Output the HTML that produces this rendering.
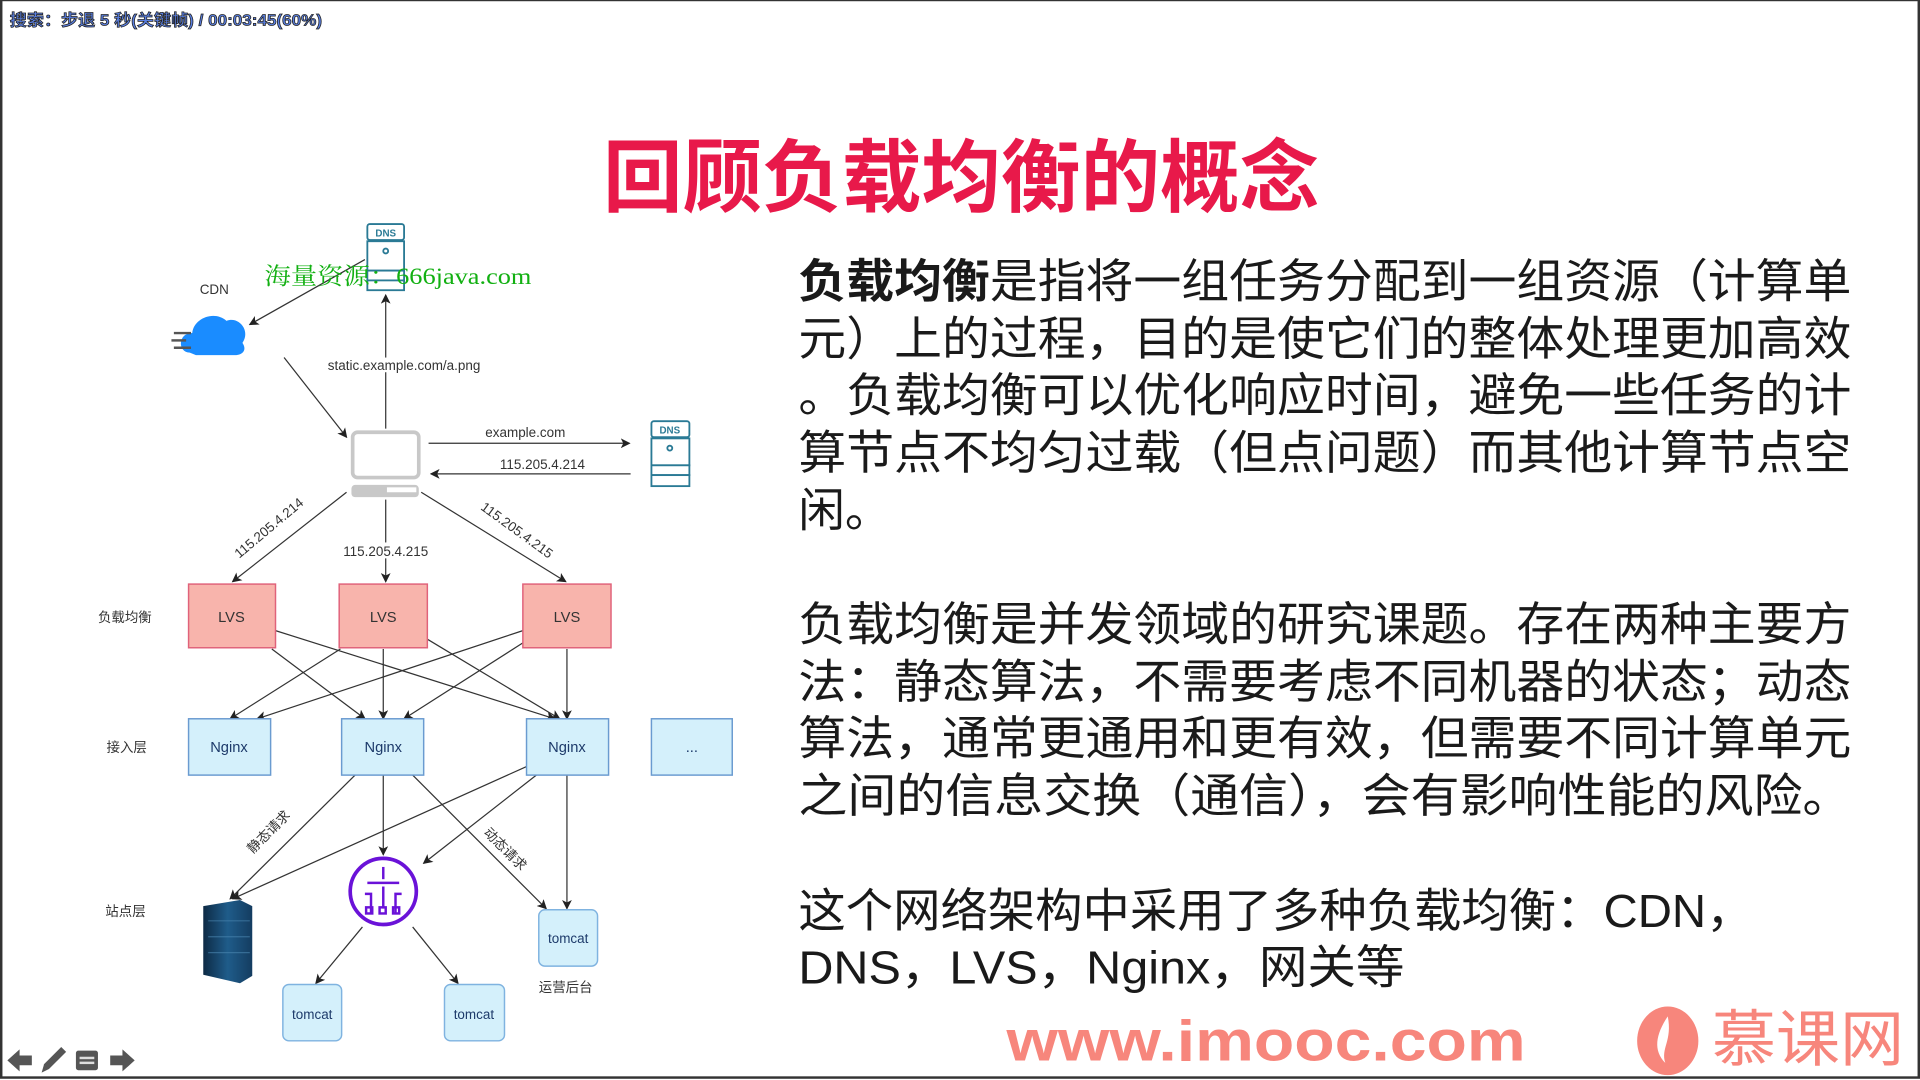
<!DOCTYPE html>
<html><head><meta charset="utf-8"><style>
html,body{margin:0;padding:0;background:#fff;width:1920px;height:1080px;overflow:hidden}
svg{display:block}
text{font-family:"Liberation Sans","Noto Sans CJK SC",sans-serif}
</style></head><body>
<svg width="1920" height="1080" viewBox="0 0 1568 882" xmlns="http://www.w3.org/2000/svg">
<defs>
<marker id="a" markerWidth="8" markerHeight="8" refX="7" refY="4" orient="auto" markerUnits="userSpaceOnUse"><path d="M0,0 L8,4 L0,8 L2,4 z" fill="#222"/></marker>
<linearGradient id="rk" x1="0" x2="1"><stop offset="0" stop-color="#0d2a45"/><stop offset="0.5" stop-color="#1f5c8a"/><stop offset="1" stop-color="#143c60"/></linearGradient>
</defs>
<rect x="0" y="0" width="1568" height="882" fill="#fff"/>
<rect x="1" y="0" width="1566" height="880" fill="none" stroke="#333" stroke-width="2"/>
<text x="8" y="21" font-size="13" font-weight="bold" fill="#5a7fe0" stroke="#222" stroke-width="0.6" textLength="255" lengthAdjust="spacingAndGlyphs">搜索：步退 5 秒(关键帧) / 00:03:45(60%)</text>

<text x="785" y="168" font-size="65" font-weight="bold" fill="#e8194a" text-anchor="middle" textLength="585" lengthAdjust="spacingAndGlyphs">回顾负载均衡的概念</text>

<g font-size="38" fill="#1a1a1a">
<text x="652" y="243" textLength="860" lengthAdjust="spacingAndGlyphs"><tspan font-weight="bold">负载均衡</tspan>是指将一组任务分配到一组资源（计算单</text>
<text x="652" y="290" textLength="860" lengthAdjust="spacingAndGlyphs">元）上的过程，目的是使它们的整体处理更加高效</text>
<text x="652" y="336" textLength="860" lengthAdjust="spacingAndGlyphs">。负载均衡可以优化响应时间，避免一些任务的计</text>
<text x="652" y="383" textLength="860" lengthAdjust="spacingAndGlyphs">算节点不均匀过载（但点问题）而其他计算节点空</text>
<text x="652" y="430">闲。</text>
<text x="652" y="523" textLength="860" lengthAdjust="spacingAndGlyphs">负载均衡是并发领域的研究课题。存在两种主要方</text>
<text x="652" y="570" textLength="860" lengthAdjust="spacingAndGlyphs">法：静态算法，不需要考虑不同机器的状态；动态</text>
<text x="652" y="616" textLength="860" lengthAdjust="spacingAndGlyphs">算法，通常更通用和更有效，但需要不同计算单元</text>
<text x="652" y="663" textLength="860" lengthAdjust="spacingAndGlyphs">之间的信息交换（通信），会有影响性能的风险。</text>
<text x="652" y="757" textLength="780" lengthAdjust="spacingAndGlyphs">这个网络架构中采用了多种负载均衡：CDN，</text>
<text x="652" y="803" textLength="495" lengthAdjust="spacingAndGlyphs">DNS，LVS，Nginx，网关等</text>
</g>

<text x="822" y="866" font-size="47" font-weight="bold" fill="#f7867c" textLength="424" lengthAdjust="spacingAndGlyphs">www.imooc.com</text>
<ellipse cx="1362" cy="850" rx="25" ry="28" fill="#f7867c"/>
<path d="M1362,830 C1352,845 1350,858 1360,868 C1356,856 1366,850 1362,830 z" fill="#fff"/>
<text x="1398" y="866" font-size="50" fill="#f7867c" textLength="157" lengthAdjust="spacingAndGlyphs">慕课网</text>

<g fill="#555">
<path d="M6,866 L16,857 L16,862 L26,862 L26,870 L16,870 L16,875 z"/>
<path d="M34,876 L36,869 L50,855 L54,859 L40,873 z"/>
<rect x="62" y="858" width="18" height="16" rx="2"/>
<rect x="65" y="863" width="12" height="2" fill="#ddd"/><rect x="65" y="867" width="12" height="2" fill="#ddd"/>
<path d="M110,866 L100,857 L100,862 L90,862 L90,870 L100,870 L100,875 z"/>
</g>

<g stroke="#333" stroke-width="1" fill="none" marker-end="url(#a)">
<line x1="298" y1="212" x2="204" y2="265"/>
<line x1="232" y1="292" x2="283" y2="357"/>
<line x1="315" y1="350" x2="315" y2="241"/>
<line x1="350" y1="362" x2="514" y2="362"/>
<line x1="515" y1="387" x2="352" y2="387"/>
<line x1="283" y1="402" x2="190" y2="475"/>
<line x1="315" y1="408" x2="315" y2="475"/>
<line x1="344" y1="402" x2="462" y2="475"/>
<line x1="222" y1="530" x2="298" y2="587"/>
<line x1="225" y1="515" x2="453" y2="587"/>
<line x1="278" y1="530" x2="188" y2="587"/>
<line x1="313" y1="530" x2="313" y2="587"/>
<line x1="349" y1="522" x2="457" y2="587"/>
<line x1="427" y1="515" x2="210" y2="587"/>
<line x1="427" y1="525" x2="330" y2="587"/>
<line x1="463" y1="530" x2="463" y2="587"/>
<line x1="290" y1="633" x2="188" y2="734"/>
<line x1="313" y1="633" x2="313" y2="698"/>
<line x1="337" y1="633" x2="446" y2="742"/>
<line x1="430" y1="626" x2="190" y2="734"/>
<line x1="438" y1="633" x2="346" y2="705"/>
<line x1="463" y1="633" x2="463" y2="742"/>
<line x1="296" y1="757" x2="258" y2="803"/>
<line x1="337" y1="757" x2="374" y2="803"/>
</g>

<g stroke="#2a7a95" stroke-width="1.5" fill="#fff">
<rect x="300" y="183" width="30" height="13" rx="2"/>
<rect x="300" y="197" width="30" height="24"/>
<rect x="300" y="221" width="30" height="8"/>
<rect x="300" y="229" width="30" height="8"/>
<circle cx="315" cy="205" r="2"/>
<rect x="532" y="344" width="31" height="13" rx="2"/>
<rect x="532" y="358" width="31" height="22"/>
<rect x="532" y="380" width="31" height="8"/>
<rect x="532" y="388" width="31" height="9"/>
<circle cx="547" cy="366" r="2"/>
</g>
<text x="315" y="193" font-size="8" fill="#2a7a95" text-anchor="middle" font-weight="bold">DNS</text>
<text x="547" y="354" font-size="8" fill="#2a7a95" text-anchor="middle" font-weight="bold">DNS</text>

<text x="216" y="232" font-size="19" fill="#12b012" style="font-family:'Liberation Serif','Noto Serif CJK SC',serif" textLength="218" lengthAdjust="spacingAndGlyphs">海量资源：666java.com</text>

<text x="175" y="240" font-size="11" fill="#333" text-anchor="middle">CDN</text>
<path d="M155,288 C145,288 145,272 157,272 C158,260 175,253 185,262 C195,258 205,270 198,280 C202,286 198,290 192,290 L160,290 z" fill="#1a8cff"/>
<g stroke="#555" stroke-width="2"><line x1="142" y1="272" x2="156" y2="272"/><line x1="140" y1="278" x2="152" y2="278"/><line x1="142" y1="284" x2="156" y2="284"/></g>

<rect x="288" y="353" width="54" height="37" rx="4" fill="#fff" stroke="#c8c8c8" stroke-width="3"/>
<rect x="287" y="396" width="55" height="10" rx="3" fill="#c8c8c8"/>
<rect x="316" y="398" width="24" height="4" fill="#fff"/>

<rect x="250" y="292" width="160" height="12" fill="#fff"/>
<text x="330" y="302" font-size="11" fill="#333" text-anchor="middle">static.example.com/a.png</text>
<text x="429" y="357" font-size="11" fill="#333" text-anchor="middle">example.com</text>
<text x="443" y="383" font-size="11" fill="#333" text-anchor="middle">115.205.4.214</text>
<text transform="translate(222,434) rotate(-40)" font-size="11" fill="#333" text-anchor="middle">115.205.4.214</text>
<rect x="272" y="443" width="86" height="13" fill="#fff"/>
<text x="315" y="454" font-size="11" fill="#333" text-anchor="middle">115.205.4.215</text>
<text transform="translate(420,436) rotate(36)" font-size="11" fill="#333" text-anchor="middle">115.205.4.215</text>

<g fill="#f8b4ac" stroke="#e0627a" stroke-width="1.2">
<rect x="154" y="477" width="71" height="52"/>
<rect x="277" y="477" width="72" height="52"/>
<rect x="427" y="477" width="72" height="52"/>
</g>
<g font-size="12" fill="#333" text-anchor="middle">
<text x="189" y="508">LVS</text><text x="313" y="508">LVS</text><text x="463" y="508">LVS</text>
</g>
<g fill="#d4f0fb" stroke="#6a9bd0" stroke-width="1.2">
<rect x="154" y="587" width="67" height="46"/>
<rect x="279" y="587" width="67" height="46"/>
<rect x="430" y="587" width="67" height="46"/>
<rect x="532" y="587" width="66" height="46"/>
</g>
<g font-size="12" fill="#1d3a6a" text-anchor="middle">
<text x="187" y="614">Nginx</text><text x="313" y="614">Nginx</text><text x="463" y="614">Nginx</text><text x="565" y="614">...</text>
</g>
<g font-size="11" fill="#333">
<text x="80" y="508">负载均衡</text>
<text x="87" y="614">接入层</text>
<text x="86" y="748">站点层</text>
<text x="440" y="810">运营后台</text>
</g>
<text transform="translate(222,682) rotate(-45)" font-size="11" fill="#333" text-anchor="middle">静态请求</text>
<text transform="translate(410,696) rotate(45)" font-size="11" fill="#333" text-anchor="middle">动态请求</text>

<circle cx="313" cy="728" r="27" fill="#fff" stroke="#6a12d8" stroke-width="3"/>
<g stroke="#6a12d8" stroke-width="2" fill="none">
<line x1="313" y1="708" x2="313" y2="718"/>
<line x1="300" y1="721" x2="326" y2="721"/>
<line x1="313" y1="724" x2="313" y2="742"/>
<path d="M303,746 L303,730 L298,730 M323,746 L323,730 L328,730"/>
<rect x="299" y="741" width="5" height="5"/><rect x="310" y="741" width="5" height="5"/><rect x="321" y="741" width="5" height="5"/>
</g>

<path d="M166,740 L196,735 L206,740 L206,797 L196,803 L166,796 z" fill="url(#rk)"/>
<g stroke="#4a86b0" stroke-width="1" opacity="0.6"><line x1="170" y1="752" x2="204" y2="752"/><line x1="170" y1="765" x2="204" y2="765"/><line x1="170" y1="778" x2="204" y2="778"/></g>

<g fill="#d4f0fb" stroke="#7fb3e0" stroke-width="1.2">
<rect x="231" y="804" width="48" height="46" rx="5"/>
<rect x="363" y="804" width="49" height="46" rx="5"/>
<rect x="440" y="743" width="48" height="46" rx="5"/>
</g>
<g font-size="11" fill="#1d3a6a" text-anchor="middle">
<text x="255" y="832">tomcat</text><text x="387" y="832">tomcat</text><text x="464" y="770">tomcat</text>
</g>
</svg>
</body></html>
